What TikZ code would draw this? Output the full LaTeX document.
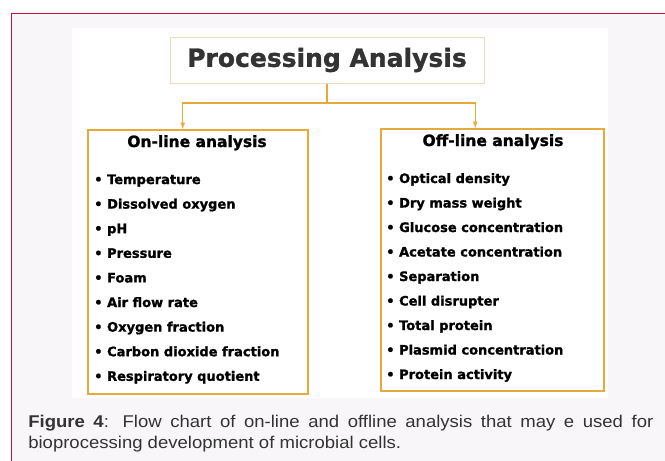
\documentclass[tikz,border=0pt]{standalone}
\usepackage{fontspec}
\setmainfont{Liberation Sans}
\newfontfamily\boxfont{DejaVu Sans}[BoldFeatures={FakeBold=1.3}]
\newfontfamily\capfont{Liberation Sans}[FakeStretch=1.09]
\usetikzlibrary{positioning}
\definecolor{frame}{HTML}{C8103C}
\definecolor{paper}{HTML}{F8F6F8}
\definecolor{gold}{HTML}{E8A93C}
\definecolor{pale}{HTML}{E9DDBF}
\definecolor{ink}{HTML}{333333}

\begin{document}
\begin{tikzpicture}[x=1pt, y=-1pt, inner sep=0pt, semithick,
      box/.style={draw=gold, line width=1.5pt, anchor=north west},
      head/.style={anchor=base, font=\boxfont\bfseries\fontsize{15.5}{18}\selectfont},
      item/.style={anchor=base west, font=\boxfont\bfseries\fontsize{13}{15}\selectfont},
      flow/.style={draw=gold, line width=1.2pt, -latex}]
      % page and frame
      \useasboundingbox (0,0) rectangle (665,461);
      \fill[white] (0,0) rectangle (665,461);
      \fill[paper] (11,13) rectangle (665,461);
      \fill[white] (72,28) rectangle (608,398);
      \draw[frame, line width=1pt] (665,13) -| (11,461);
      % title
      \node[draw=pale, line width=1pt, minimum width=314pt, minimum height=46pt,
        text=ink, font=\boxfont\bfseries\fontsize{25}{28}\selectfont] (title) at (327,60) {Processing Analysis};
      % on-line box
      \node[box, minimum width=220pt, minimum height=264pt] (on_box) at (87,129) {};
      \node[head] (on_head) at (197,147) {On-line analysis};
      \node[item] (on_1) at (94,184) {\textbullet\ Temperature};
      \node[item] (on_2) at (94,208.6) {\textbullet\ Dissolved oxygen};
      \node[item] (on_3) at (94,233.2) {\textbullet\ pH};
      \node[item] (on_4) at (94,257.8) {\textbullet\ Pressure};
      \node[item] (on_5) at (94,282.4) {\textbullet\ Foam};
      \node[item] (on_6) at (94,307) {\textbullet\ Air flow rate};
      \node[item] (on_7) at (94,331.6) {\textbullet\ Oxygen fraction};
      \node[item] (on_8) at (94,356.2) {\textbullet\ Carbon dioxide fraction};
      \node[item] (on_9) at (94,380.8) {\textbullet\ Respiratory quotient};
      % off-line box
      \node[box, minimum width=223pt, minimum height=262pt] (off_box) at (380,128) {};
      \node[head] (off_head) at (493,146) {Off-line analysis};
      \node[item] (off_1) at (386,183) {\textbullet\ Optical density};
      \node[item] (off_2) at (386,207.5) {\textbullet\ Dry mass weight};
      \node[item] (off_3) at (386,232) {\textbullet\ Glucose concentration};
      \node[item] (off_4) at (386,256.5) {\textbullet\ Acetate concentration};
      \node[item] (off_5) at (386,281) {\textbullet\ Separation};
      \node[item] (off_6) at (386,305.5) {\textbullet\ Cell disrupter};
      \node[item] (off_7) at (386,330) {\textbullet\ Total protein};
      \node[item] (off_8) at (386,354.5) {\textbullet\ Plasmid concentration};
      \node[item] (off_9) at (386,379) {\textbullet\ Protein activity};
      % connectors
      \coordinate (split) at (327,103);
      \draw[flow, -] (title) -- (split);
      \draw[flow] (split) -| ([xshift=-15pt]on_box.north);
      \draw[flow] (split) -| ([xshift=-17pt]off_box.north);
      % caption
      \node[anchor=north west, text width=625pt, align=justify, text=ink,
        font=\capfont\fontsize{17}{21}\selectfont] (caption) at (28,414.5)
        {\tolerance=9999\textbf{Figure 4}: Flow chart of on-line and offline analysis that may e used for\linebreak bioprocessing development of microbial cells.};
\end{tikzpicture}
\end{document}
